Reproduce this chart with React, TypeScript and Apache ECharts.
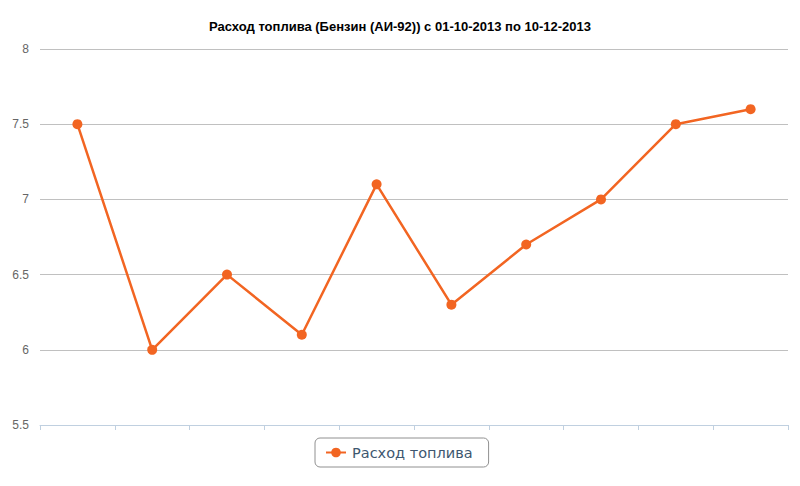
import React, { useEffect, useRef } from "react";
import * as echarts from "echarts";

const categories = ["1", "2", "3", "4", "5", "6", "7", "8", "9", "10"];
const fuelValues = [7.5, 6.0, 6.5, 6.1, 7.1, 6.3, 6.7, 7.0, 7.5, 7.6];
const titleText = "Расход топлива (Бензин (АИ-92)) с 01-10-2013 по 10-12-2013";
const seriesName = "Расход топлива";

export default function App() {
  const ref = useRef<HTMLDivElement>(null);
  useEffect(() => {
    if (!ref.current) return;
    const chart = echarts.init(ref.current, undefined, { renderer: "svg" });
    chart.setOption({
      animation: false,
      backgroundColor: "#ffffff",
      title: {
        text: titleText,
        left: "center",
        top: 15,
        textStyle: { fontFamily: "Liberation Sans, Arial", fontSize: 13, fontWeight: "bold", color: "#000" },
      },
      grid: { left: 40, right: 12, top: 49, bottom: 61 },
      xAxis: {
        type: "category",
        data: categories,
        boundaryGap: true,
        axisLine: { lineStyle: { color: "#C0D0E0", width: 1 } },
        axisTick: { show: true, length: 5, lineStyle: { color: "#C0D0E0" } },
        axisLabel: { show: false },
        splitLine: { show: false },
      },
      yAxis: {
        type: "value",
        min: 5.5,
        max: 8,
        interval: 0.5,
        axisLine: { show: false },
        axisTick: { show: false },
        axisLabel: { color: "#666666", fontSize: 12, fontFamily: "Liberation Sans, Arial", margin: 11 },
        splitLine: { lineStyle: { color: "#C0C0C0", width: 1 } },
      },
      legend: {
        bottom: 19,
        left: 315,
        itemWidth: 20,
        itemHeight: 12,
        itemGap: 10,
        padding: [7, 16, 7, 10],
        borderColor: "#909090",
        borderWidth: 1,
        borderRadius: 5,
        textStyle: { color: "#3E576F", fontSize: 14.5, fontFamily: "DejaVu Sans", padding: [0, 0, 0, 1] },
        data: [seriesName],
      },
      series: [
        {
          name: seriesName,
          type: "line",
          data: fuelValues,
          color: "#F26522",
          symbol: "circle",
          symbolSize: 10,
          lineStyle: { width: 2.5, color: "#F26522" },
          itemStyle: { color: "#F26522" },
        },
      ],
    });
    return () => chart.dispose();
  }, []);
  return <div ref={ref} style={{ width: 800, height: 486, margin: -8 }} />;
}
